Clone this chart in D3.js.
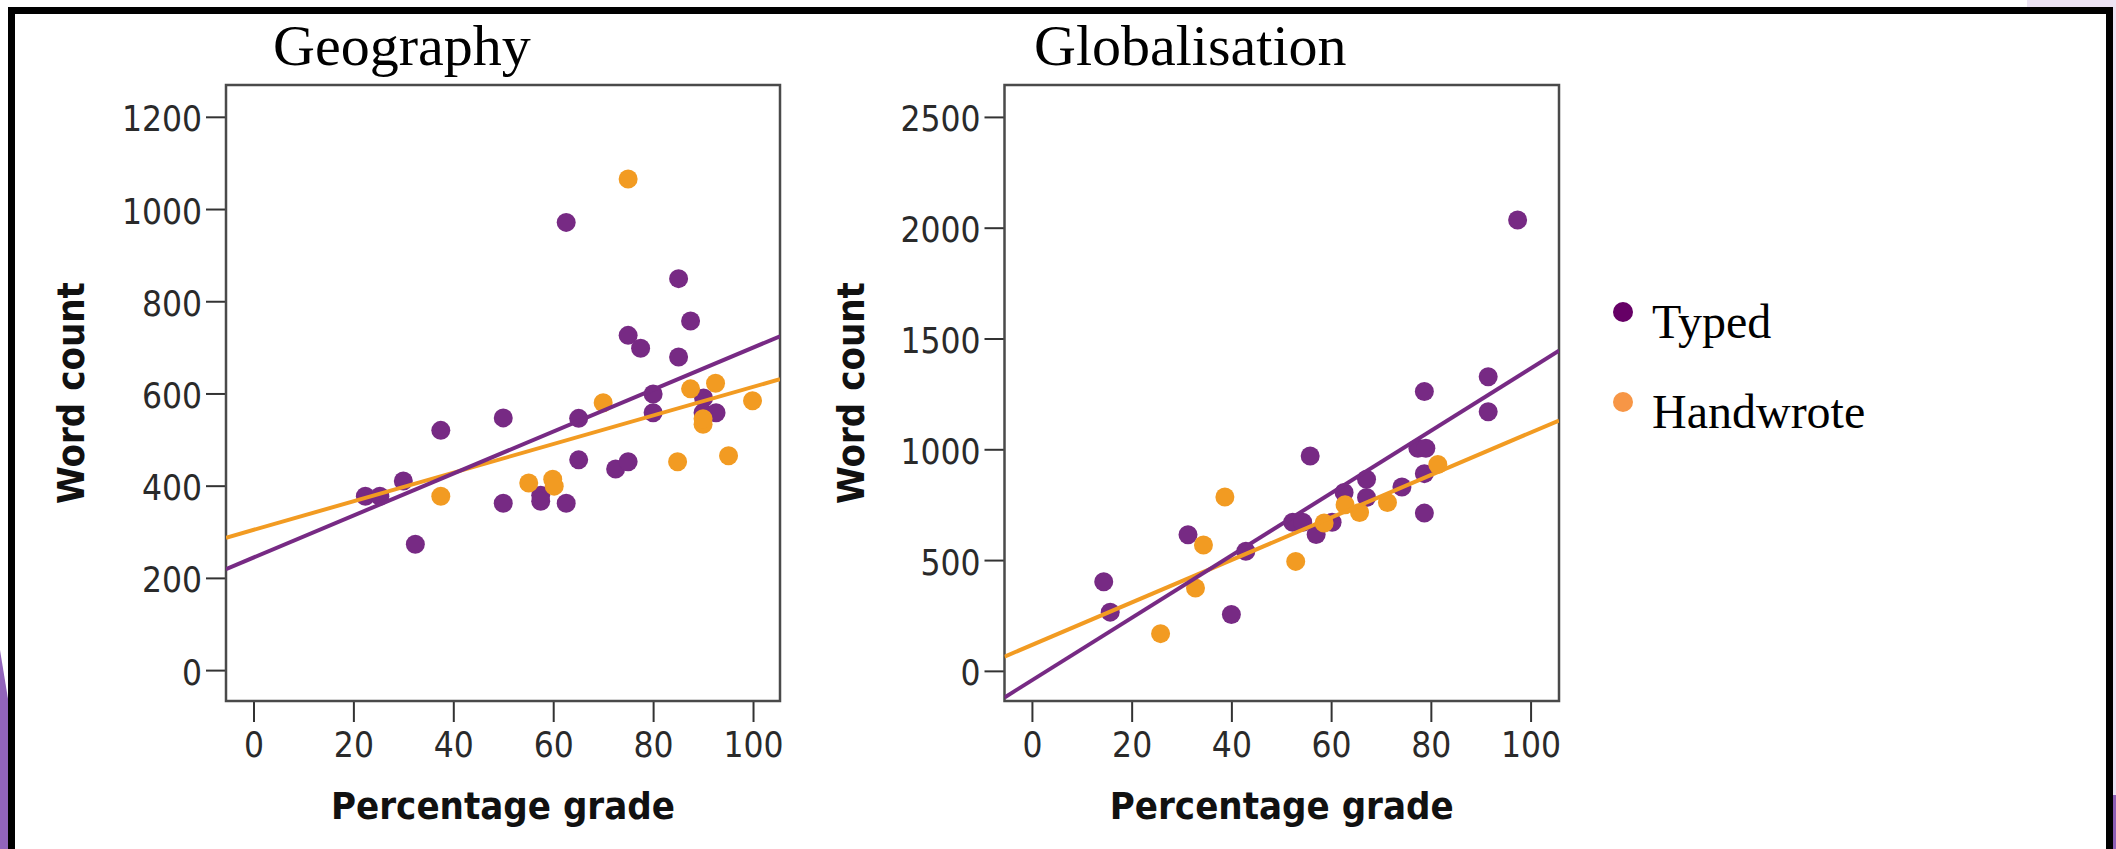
<!DOCTYPE html>
<html>
<head>
<meta charset="utf-8">
<script src="https://cdn.jsdelivr.net/npm/d3@7"></script>
<style>
  body { margin: 0; background: #fff; }
  .tick text { font-family: "DejaVu Sans Condensed", "DejaVu Sans", sans-serif; font-stretch: condensed; font-size: 35px; fill: #2a2a2a; }
  .tick line { stroke: #333; stroke-width: 2; }
  .axisTitle { font-family: "DejaVu Sans Condensed", "DejaVu Sans", sans-serif; font-stretch: condensed; font-weight: bold; font-size: 38px; fill: #111; }
  .panelTitle { font-family: "Liberation Serif", "Times New Roman", serif; font-size: 58px; fill: #000; }
  .legendText { font-family: "Liberation Serif", "Times New Roman", serif; font-size: 48px; fill: #000; }
</style>
</head>
<body>
<div class="chart"></div>
<script>
// Chart data: [percentage grade, word count]
var geographyTyped = [
  [62.6, 971], [85.1, 849], [87.5, 757], [75.0, 726], [77.5, 698], [85.1, 679],
  [80.0, 599], [80.0, 558], [90.1, 590], [90.0, 558], [92.6, 558], [65.1, 546],
  [50.0, 547], [37.5, 520], [65.1, 456], [72.5, 436], [75.0, 452], [30.0, 410],
  [22.4, 377], [25.3, 377], [50.0, 362], [57.5, 379], [57.5, 366], [62.6, 362],
  [32.4, 273]
];
var geographyHandwrote = [
  [75.0, 1065], [70.0, 580], [87.5, 610], [92.5, 622], [99.9, 584], [90.0, 533],
  [90.0, 545], [84.9, 452], [95.1, 465], [37.5, 377], [55.1, 406], [59.9, 414],
  [60.2, 399]
];
var globalisationTyped = [
  [97.4, 2035], [91.5, 1327], [91.5, 1169], [78.7, 1261], [77.4, 1005], [79.0, 1005],
  [78.7, 890], [78.7, 712], [55.8, 970], [67.1, 865], [67.1, 782], [74.2, 830],
  [62.6, 805], [52.3, 671], [54.3, 671], [60.2, 671], [57.0, 615], [31.3, 614],
  [42.9, 540], [14.4, 402], [15.7, 265], [40.0, 254]
];
var globalisationHandwrote = [
  [81.4, 931], [71.3, 760], [65.7, 715], [62.8, 750], [58.6, 667], [38.7, 785],
  [34.4, 568], [32.8, 374], [52.9, 494], [25.8, 168]
];

// Fit lines: [grade, word count] at the frame edges
var geographyTypedFit = [[-5.5, 219], [105.4, 724]];
var geographyHandwroteFit = [[-5.5, 287], [105.4, 631]];
var globalisationTypedFit = [[-5.5, -120], [105.7, 1445]];
var globalisationHandwroteFit = [[-5.5, 64], [105.7, 1130]];

// Ticks and labels
var gradeTicks = [0, 20, 40, 60, 80, 100];
var geographyWordTicks = [0, 200, 400, 600, 800, 1000, 1200];
var globalisationWordTicks = [0, 500, 1000, 1500, 2000, 2500];
var panelTitles = ["Geography", "Globalisation"];
var legendLabels = ["Typed", "Handwrote"];

// Colours
var typedColor = "#772a84";
var handColor = "#f29b22";
var legendColors = ["#660066", "#f79646"];

var svgWidth = 2116;
var svgHeight = 849;

var svg = d3.select(".chart")
  .append("svg")
  .attr("width", svgWidth)
  .attr("height", svgHeight);

// Slide background bits
svg.append("rect").attr("x", 0).attr("y", 0).attr("width", svgWidth).attr("height", svgHeight).attr("fill", "#fff");
svg.append("rect").attr("x", 2027).attr("y", 0).attr("width", 89).attr("height", 8).attr("fill", "#ece3f3");
svg.append("rect").attr("x", 2112).attr("y", 0).attr("width", 4).attr("height", 795).attr("fill", "#ece3f3");
svg.append("rect").attr("x", 2112).attr("y", 795).attr("width", 4).attr("height", 54).attr("fill", "#8e5fb6");
svg.append("path")
  .attr("d", "M0,650 L9,705 L9,849 L0,849 Z")
  .attr("fill", "#9264bb");

// Black outer frame
svg.append("rect")
  .attr("x", 11.5)
  .attr("y", 10.5)
  .attr("width", 2098)
  .attr("height", 900)
  .attr("fill", "none")
  .attr("stroke", "#000")
  .attr("stroke-width", 7);

var panels = [
  {
    title: panelTitles[0], titleX: 273, left: 226, right: 780,
    xDomain: [-5.5, 105.4], yDomain: [-67, 1269], yTicks: geographyWordTicks,
    typed: geographyTyped, hand: geographyHandwrote,
    typedFit: geographyTypedFit, handFit: geographyHandwroteFit, labelX: 84
  },
  {
    title: panelTitles[1], titleX: 1034, left: 1004.5, right: 1559,
    xDomain: [-5.5, 105.7], yDomain: [-136, 2644], yTicks: globalisationWordTicks,
    typed: globalisationTyped, hand: globalisationHandwrote,
    typedFit: globalisationTypedFit, handFit: globalisationHandwroteFit, labelX: 864
  }
];

var plotTop = 85, plotBottom = 701;

panels.forEach(function (p, i) {
  var g = svg.append("g");

  var xScale = d3.scaleLinear().domain(p.xDomain).range([p.left, p.right]);
  var yScale = d3.scaleLinear().domain(p.yDomain).range([plotBottom, plotTop]);

  // Title
  g.append("text")
    .attr("class", "panelTitle")
    .attr("x", p.titleX)
    .attr("y", 65)
    .text(p.title);

  // Axes
  var yAxis = g.append("g")
    .attr("transform", `translate(${p.left}, 0)`)
    .call(d3.axisLeft(yScale).tickValues(p.yTicks).tickFormat(d3.format("d"))
      .tickSize(20).tickPadding(4));
  yAxis.select(".domain").remove();
  yAxis.selectAll("text").attr("dy", "0.4em");

  var xAxis = g.append("g")
    .attr("transform", `translate(0, ${plotBottom})`)
    .call(d3.axisBottom(xScale).tickValues(gradeTicks).tickFormat(d3.format("d"))
      .tickSize(21).tickPadding(10));
  xAxis.select(".domain").remove();

  // Plot frame
  g.append("rect")
    .attr("x", p.left)
    .attr("y", plotTop)
    .attr("width", p.right - p.left)
    .attr("height", plotBottom - plotTop)
    .attr("fill", "none")
    .attr("stroke", "#4a4a4a")
    .attr("stroke-width", 2.5);

  var clipId = "clip" + i;
  svg.append("clipPath").attr("id", clipId)
    .append("rect")
    .attr("x", p.left).attr("y", plotTop)
    .attr("width", p.right - p.left).attr("height", plotBottom - plotTop);

  var plot = g.append("g").attr("clip-path", `url(#${clipId})`);

  // Points
  plot.selectAll(".typed")
    .data(p.typed)
    .enter()
    .append("circle")
    .attr("class", "typed")
    .attr("cx", d => xScale(d[0]))
    .attr("cy", d => yScale(d[1]))
    .attr("r", 9.5)
    .attr("fill", typedColor);

  plot.selectAll(".hand")
    .data(p.hand)
    .enter()
    .append("circle")
    .attr("class", "hand")
    .attr("cx", d => xScale(d[0]))
    .attr("cy", d => yScale(d[1]))
    .attr("r", 9.5)
    .attr("fill", handColor);

  // Fit lines
  var line = d3.line().x(d => xScale(d[0])).y(d => yScale(d[1]));
  plot.append("path")
    .attr("d", line(p.handFit))
    .attr("stroke", handColor)
    .attr("stroke-width", 4)
    .attr("fill", "none");
  plot.append("path")
    .attr("d", line(p.typedFit))
    .attr("stroke", typedColor)
    .attr("stroke-width", 4)
    .attr("fill", "none");

  // Axis titles
  g.append("text")
    .attr("class", "axisTitle")
    .attr("text-anchor", "middle")
    .attr("x", (p.left + p.right) / 2)
    .attr("y", 819)
    .text("Percentage grade");

  g.append("text")
    .attr("class", "axisTitle")
    .attr("text-anchor", "middle")
    .attr("transform", `translate(${p.labelX}, ${(plotTop + plotBottom) / 2}) rotate(-90)`)
    .text("Word count");
});

// Legend
var legend = svg.append("g");
legendLabels.forEach(function (label, i) {
  legend.append("circle")
    .attr("cx", 1623)
    .attr("cy", 312 + i * 90)
    .attr("r", 10)
    .attr("fill", legendColors[i]);
  legend.append("text")
    .attr("class", "legendText")
    .attr("x", 1652)
    .attr("y", 338 + i * 90)
    .text(label);
});
</script>
</body>
</html>
